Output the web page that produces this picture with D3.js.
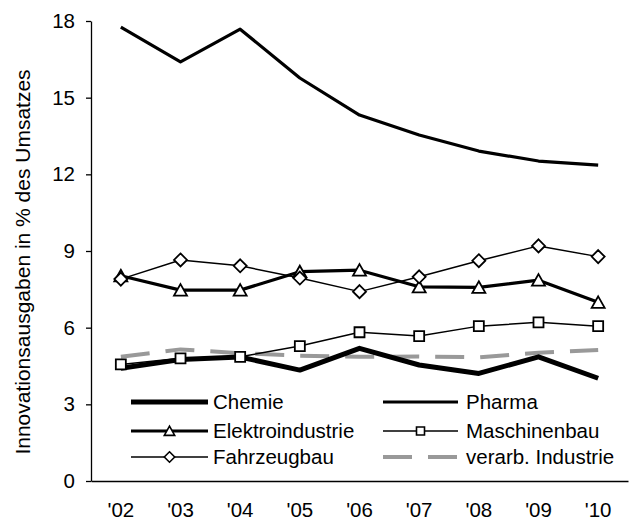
<!DOCTYPE html>
<html>
<head>
<meta charset="utf-8">
<script src="https://cdn.jsdelivr.net/npm/d3@7"></script>
<style>
  body { margin: 0; background: #fff; }
  svg text { font-family: "Liberation Sans", Arial, sans-serif; fill: #000; }
</style>
</head>
<body>
<div id="content"></div>
<script>
var years = ["'02", "'03", "'04", "'05", "'06", "'07", "'08", "'09", "'10"];
var yTicks = [0, 3, 6, 9, 12, 15, 18];
var chemie = [4.41, 4.75, 4.85, 4.34, 5.19, 4.54, 4.21, 4.86, 4.02];
var pharma = [17.76, 16.4, 17.68, 15.77, 14.32, 13.54, 12.91, 12.52, 12.36];
var elektro = [8.03, 7.47, 7.47, 8.19, 8.25, 7.6, 7.58, 7.86, 6.99];
var maschinenbau = [4.56, 4.8, 4.86, 5.28, 5.82, 5.67, 6.06, 6.21, 6.06];
var fahrzeugbau = [7.9, 8.65, 8.42, 7.94, 7.41, 7.99, 8.62, 9.2, 8.78];
var verarbInd = [4.86, 5.15, 5.0, 4.9, 4.86, 4.87, 4.84, 5.02, 5.13];

(function(d3) {
    var width = 638, height = 521;
    var margin = {top: 21, right: 10, bottom: 40, left: 91};

    var svg = d3.select("#content").append("svg")
        .attr("width", width).attr("height", height);

    var x = d3.scaleBand().domain(years).range([margin.left, 628]);
    var y = d3.scaleLinear().domain([0, 18]).range([481, margin.top]);

    // y axis
    var yAxis = svg.append("g")
        .attr("transform", "translate(" + margin.left + ",0)")
        .call(d3.axisLeft(y).tickValues(yTicks).tickSize(5).tickPadding(11).tickSizeOuter(0));
    yAxis.select(".domain").attr("stroke", "#000").attr("stroke-width", 1.3);
    yAxis.selectAll(".tick line").attr("stroke", "#000").attr("stroke-width", 1.3);
    yAxis.selectAll("text").style("font-size", "20.5px");

    // x axis
    var xAxis = svg.append("g")
        .attr("transform", "translate(0,481)")
        .call(d3.axisBottom(x).tickSize(0).tickPadding(21).tickSizeOuter(0));
    xAxis.select(".domain").attr("stroke", "#000").attr("stroke-width", 1.3);
    xAxis.selectAll("text").style("font-size", "20.5px");

    svg.append("text")
        .attr("transform", "translate(30,262) rotate(-90)")
        .attr("text-anchor", "middle")
        .style("font-size", "21px")
        .text("Innovationsausgaben in % des Umsatzes");

    var cx = function(i) { return x(years[i]) + x.bandwidth() / 2; };
    var line = d3.line().x(function(d, i) { return cx(i); }).y(function(d) { return y(d); });

    var series = [
        {name: "Chemie", data: chemie, width: 5, color: "#000", marker: null},
        {name: "Pharma", data: pharma, width: 3.2, color: "#000", marker: null},
        {name: "Elektroindustrie", data: elektro, width: 3.2, color: "#000", marker: "triangle"},
        {name: "Maschinenbau", data: maschinenbau, width: 1.5, color: "#000", marker: "square"},
        {name: "Fahrzeugbau", data: fahrzeugbau, width: 1.5, color: "#000", marker: "diamond"},
        {name: "verarb. Industrie", data: verarbInd, width: 4, color: "#999", marker: null, dash: "29,16"}
    ];

    function symbolPath(type, s) {
        var p = d3.path();
        if (type === "triangle") {
            p.moveTo(0, -6 * s); p.lineTo(6.5 * s, 5.5 * s); p.lineTo(-6.5 * s, 5.5 * s);
        } else if (type === "square") {
            p.rect(-5 * s, -5 * s, 10 * s, 10 * s);
        } else {
            p.moveTo(0, -6.5 * s); p.lineTo(6.5 * s, 0); p.lineTo(0, 6.5 * s); p.lineTo(-6.5 * s, 0);
        }
        p.closePath();
        return p.toString();
    }

    function drawSeries(s) {
        svg.append("path")
            .datum(s.data)
            .attr("fill", "none")
            .attr("stroke", s.color)
            .attr("stroke-width", s.width)
            .attr("stroke-dasharray", s.dash || null)
            .attr("stroke-linejoin", "round")
            .attr("d", line);
        if (s.marker) {
            svg.append("g").selectAll("path")
                .data(s.data)
                .join("path")
                .attr("transform", function(d, i) { return "translate(" + cx(i) + "," + y(d) + ")"; })
                .attr("d", symbolPath(s.marker, 1))
                .attr("fill", "#fff")
                .attr("stroke", "#000")
                .attr("stroke-width", 1.8);
        }
    }
    // draw order: grey dashed behind
    [5, 0, 1, 2, 3, 4].forEach(function(i) { drawSeries(series[i]); });

    // legend
    var legendCols = [{x0: 131, x1: 208, tx: 213}, {x0: 383, x1: 458, tx: 466}];
    var legendRows = [402, 431, 457];
    var legend = svg.append("g");
    series.forEach(function(s, i) {
        var col = legendCols[i % 2], rowY = legendRows[Math.floor(i / 2)];
        var g = legend.append("g");
        g.append("line")
            .attr("x1", col.x0).attr("x2", col.x1)
            .attr("y1", rowY).attr("y2", rowY)
            .attr("stroke", s.color)
            .attr("stroke-width", s.width)
            .attr("stroke-dasharray", s.dash || null);
        if (s.marker) {
            g.append("path")
                .attr("transform", "translate(" + (col.x0 + col.x1) / 2 + "," + rowY + ")")
                .attr("d", symbolPath(s.marker, 0.8))
                .attr("fill", "#fff")
                .attr("stroke", "#000")
                .attr("stroke-width", 1.6);
        }
        g.append("text")
            .attr("x", col.tx).attr("y", rowY)
            .attr("dy", "0.36em")
            .style("font-size", "20.5px")
            .text(s.name);
    });
})(d3);
</script>
</body>
</html>
